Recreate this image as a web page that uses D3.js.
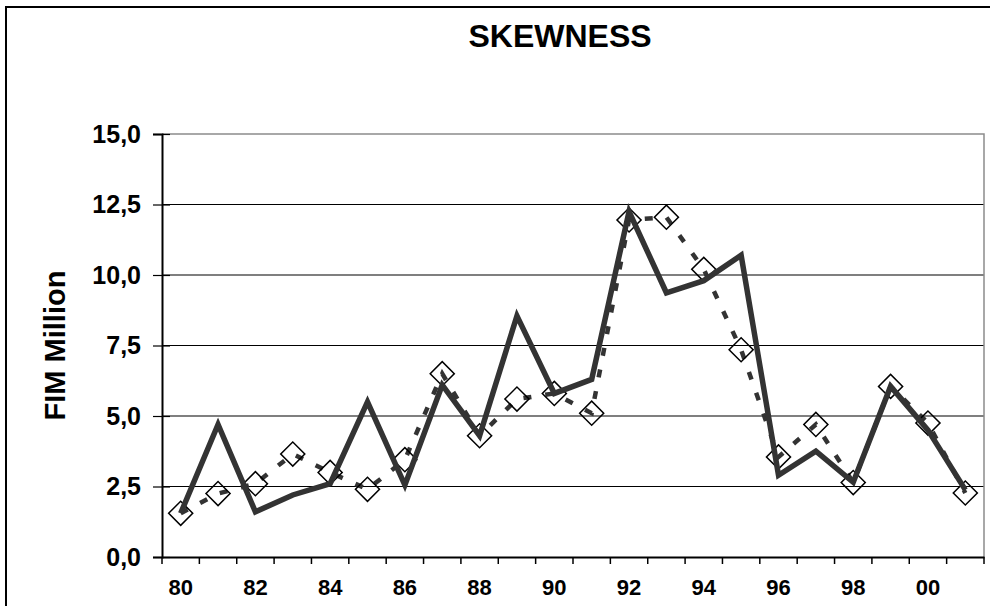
<!DOCTYPE html>
<html>
<head>
<meta charset="utf-8">
<script src="https://cdn.jsdelivr.net/npm/d3@7"></script>
<style>
  body { margin: 0; background: #fff; }
  text { font-family: "Liberation Sans", Arial, sans-serif; font-weight: bold; fill: #000; }
</style>
</head>
<body>
<svg id="chart"></svg>
<script>
const vWidth = 990
const vHeight = 606

const years = ['80', '81', '82', '83', '84', '85', '86', '87', '88', '89', '90',
  '91', '92', '93', '94', '95', '96', '97', '98', '99', '00', '01']
const solidValues = [1.55, 4.7, 1.6, 2.2, 2.6, 5.5, 2.55, 6.1, 4.3, 8.55, 5.8,
  6.3, 12.25, 9.37, 9.8, 10.7, 2.9, 3.75, 2.65, 6.05, 4.5, 2.38]
const dashedValues = [1.55, 2.25, 2.6, 3.65, 3.0, 2.4, 3.45, 6.5, 4.3, 5.6, 5.8,
  5.1, 11.95, 12.05, 10.2, 7.35, 3.55, 4.7, 2.64, 6.05, 4.75, 2.27]
const yTicks = [0, 2.5, 5, 7.5, 10, 12.5, 15]
const xLabels = ['80', '82', '84', '86', '88', '90', '92', '94', '96', '98', '00']

const plot = { left: 162, right: 984, top: 134, bottom: 557 }
const lineColor = '#333333'

const svg = d3.select('#chart')
  .attr('width', vWidth)
  .attr('height', vHeight)

// outer frame
svg.append('rect')
  .attr('x', 6).attr('y', 7)
  .attr('width', vWidth + 10).attr('height', vHeight + 10)
  .attr('fill', '#fff')
  .attr('stroke', '#000')
  .attr('stroke-width', 2)

const x = d3.scaleBand()
  .domain(years)
  .range([plot.left, plot.right])
  .padding(0)

const y = d3.scaleLinear()
  .domain([0, 15])
  .range([plot.bottom, plot.top])

// gridlines
svg.append('g')
  .selectAll('line')
  .data(yTicks.filter((d) => d > 0 && d < 15))
  .enter()
  .append('line')
  .attr('x1', plot.left).attr('x2', plot.right)
  .attr('y1', (d) => y(d)).attr('y2', (d) => y(d))
  .attr('stroke', '#000')
  .attr('stroke-width', 1.2)

// plot border (top + right, grey)
svg.append('path')
  .attr('d', `M${plot.left},${y(15)}H${plot.right}V${plot.bottom}`)
  .attr('fill', 'none')
  .attr('stroke', '#8c8c8c')
  .attr('stroke-width', 1.5)

// y axis
const yAxis = svg.append('g')
  .attr('transform', `translate(${plot.left},0)`)
  .call(d3.axisLeft(y)
    .tickValues(yTicks)
    .tickSize(9)
    .tickPadding(12)
    .tickFormat((d) => d3.format('.1f')(d).replace('.', ',')))
yAxis.select('.domain').attr('stroke', '#000').attr('stroke-width', 2)
yAxis.selectAll('.tick line').attr('x2', 8).attr('x1', -9).attr('stroke-width', 1.2)
yAxis.selectAll('.tick text')
  .attr('font-size', 25)
  .attr('font-family', '"Liberation Sans", Arial, sans-serif')
  .attr('font-weight', 'bold')

// x axis labels
const xAxis = svg.append('g')
  .attr('transform', `translate(0,${plot.bottom})`)
  .call(d3.axisBottom(x).tickValues(xLabels).tickSize(0).tickPadding(22))
xAxis.select('.domain').attr('stroke', '#000').attr('stroke-width', 2)
xAxis.selectAll('.tick text')
  .attr('font-size', 22)
  .attr('font-family', '"Liberation Sans", Arial, sans-serif')
  .attr('font-weight', 'bold')

// x boundary ticks
svg.append('g')
  .selectAll('line')
  .data(years.map((d) => x(d)).concat([plot.right]))
  .enter()
  .append('line')
  .attr('x1', (d) => d).attr('x2', (d) => d)
  .attr('y1', plot.bottom).attr('y2', plot.bottom + 7)
  .attr('stroke', '#000')
  .attr('stroke-width', 1.5)

const cx = (i) => x(years[i]) + x.bandwidth() / 2

const line = d3.line()
  .x((_, i) => cx(i))
  .y((d) => y(d))

// dashed series with diamonds
svg.append('path')
  .datum(dashedValues)
  .attr('d', line)
  .attr('fill', 'none')
  .attr('stroke', lineColor)
  .attr('stroke-width', 4.5)
  .attr('stroke-dasharray', '8,14')

svg.append('g')
  .selectAll('path')
  .data(dashedValues)
  .enter()
  .append('path')
  .attr('d', d3.symbol(d3.symbolSquare, 290))
  .attr('transform', (d, i) => `translate(${cx(i)},${y(d)}) rotate(45)`)
  .attr('fill', 'none')
  .attr('stroke', '#000')
  .attr('stroke-width', 1.5)

// solid series
svg.append('path')
  .datum(solidValues)
  .attr('d', line)
  .attr('fill', 'none')
  .attr('stroke', lineColor)
  .attr('stroke-width', 5.5)
  .attr('stroke-linejoin', 'miter')

// title
svg.append('text')
  .attr('x', 560).attr('y', 47)
  .attr('text-anchor', 'middle')
  .attr('font-size', 32)
  .text('SKEWNESS')

// y axis title
svg.append('text')
  .attr('transform', `translate(65,${(plot.top + plot.bottom) / 2}) rotate(-90)`)
  .attr('text-anchor', 'middle')
  .attr('font-size', 29)
  .text('FIM Million')
</script>
</body>
</html>
